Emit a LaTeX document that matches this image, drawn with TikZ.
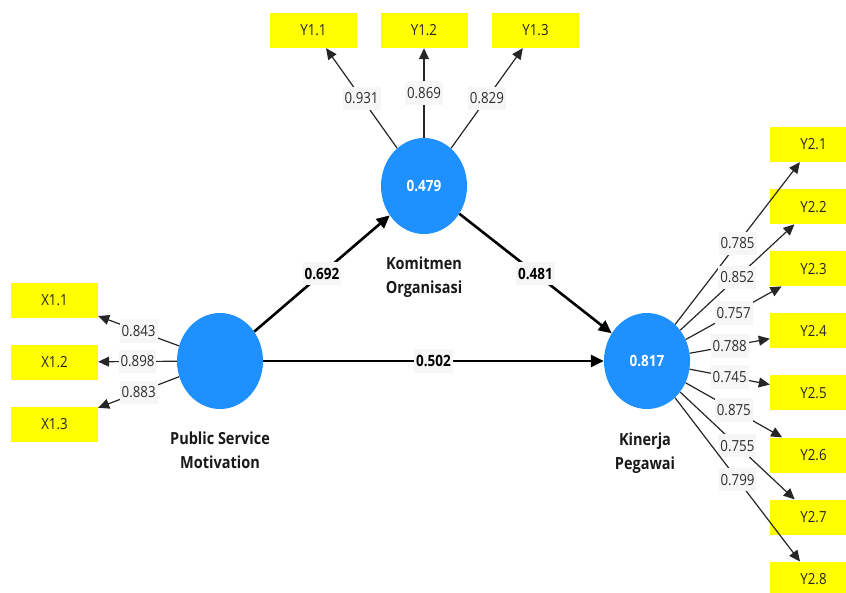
\documentclass[tikz,border=0pt]{standalone}
\usepackage{fontspec}
\setmainfont{Open Sans}
\usepackage{graphicx}
\usetikzlibrary{shapes.geometric,arrows.meta}
\definecolor{lvblue}{RGB}{30,144,255}
\definecolor{mvyellow}{RGB}{255,255,0}
\definecolor{labelbg}{RGB}{246,246,246}
\definecolor{labeltext}{RGB}{45,45,45}
% slightly taller glyphs, as in the SmartPLS export
\newcommand\vstretch[1]{\scalebox{1}[1.15]{#1}}
\begin{document}
\begin{tikzpicture}[x=1pt,y=-1pt,
  lv/.style={ellipse, fill=lvblue, minimum width=86pt, minimum height=96pt,
    inner sep=0pt, text=white, font=\fontsize{13.5}{16}\selectfont\bfseries},
  ind/.style={rectangle, fill=mvyellow, minimum width=87pt, minimum height=35pt,
    inner sep=0pt, text=black!85, font=\fontsize{13.3}{16}\selectfont},
  load/.style={draw=black!85, line width=1.2pt, -{Triangle[length=11pt,width=10pt]}},
  struct/.style={draw=black, line width=2.6pt, -{Triangle[length=13pt,width=12pt]}},
  lab/.style={fill=labelbg, text=labeltext, inner xsep=2pt, inner ysep=6pt,
    font=\fontsize{13.3}{16}\selectfont},
  plab/.style={fill=labelbg, text=black, inner xsep=2pt, inner ysep=6pt,
    font=\fontsize{13.5}{16}\selectfont\bfseries},
  lvname/.style={text=black!90, inner sep=0pt, font=\fontsize{14.5}{21}\selectfont\bfseries}
]
\useasboundingbox (0,0) rectangle (846,592);
\clip (0,0) rectangle (846,592);

% latent variables
\node[lv] (psm) at (220,361) {};
\node[lv] (ko)  at (424,186) {\vstretch{0.479}};
\node[lv] (kp)  at (647,361) {\vstretch{0.817}};

\node[lvname] (psmname) at (220,452) {\vstretch{\begin{tabular}{@{}c@{}}Public Service\\Motivation\end{tabular}}};
\node[lvname] (koname)  at (424,277) {\vstretch{\begin{tabular}{@{}c@{}}Komitmen\\Organisasi\end{tabular}}};
\node[lvname] (kpname)  at (645,453) {\vstretch{\begin{tabular}{@{}c@{}}Kinerja\\Pegawai\end{tabular}}};

% indicators
\node[ind] (x11) at (54.5,300)   {\vstretch{X1.1}};
\node[ind] (x12) at (54.5,362)   {\vstretch{X1.2}};
\node[ind] (x13) at (54.5,424.5) {\vstretch{X1.3}};

\node[ind] (y11) at (313.5,30.5) {\vstretch{Y1.1}};
\node[ind] (y12) at (424,30.5)   {\vstretch{Y1.2}};
\node[ind] (y13) at (535.5,30.5) {\vstretch{Y1.3}};

\foreach \k in {1,...,8}{
  \node[ind] (y2\k) at (813.5,{144.5+62.1*(\k-1)}) {\vstretch{Y2.\k}};
}

% outer loadings
\draw[load] (psm) -- node[lab]{\vstretch{0.843}} (x11);
\draw[load] (psm) -- node[lab]{\vstretch{0.898}} (x12);
\draw[load] (psm) -- node[lab]{\vstretch{0.883}} (x13);

\draw[load] (ko) -- node[lab]{\vstretch{0.931}} (y11);
\draw[load] (ko) -- node[lab]{\vstretch{0.869}} (y12);
\draw[load] (ko) -- node[lab]{\vstretch{0.829}} (y13);

\draw[load] (kp) -- node[lab]{\vstretch{0.785}} (y21);
\draw[load] (kp) -- node[lab]{\vstretch{0.852}} (y22);
\draw[load] (kp) -- node[lab]{\vstretch{0.757}} (y23);
\draw[load] (kp) -- node[lab]{\vstretch{0.788}} (y24);
\draw[load] (kp) -- node[lab]{\vstretch{0.745}} (y25);
\draw[load] (kp) -- node[lab]{\vstretch{0.875}} (y26);
\draw[load] (kp) -- node[lab]{\vstretch{0.755}} (y27);
\draw[load] (kp) -- node[lab]{\vstretch{0.799}} (y28);

% path coefficients
\draw[struct] (psm) -- node[plab]{\vstretch{0.692}} (ko);
\draw[struct] (ko)  -- node[plab]{\vstretch{0.481}} (kp);
\draw[struct] (psm) -- node[plab]{\vstretch{0.502}} (kp);
\end{tikzpicture}
\end{document}
